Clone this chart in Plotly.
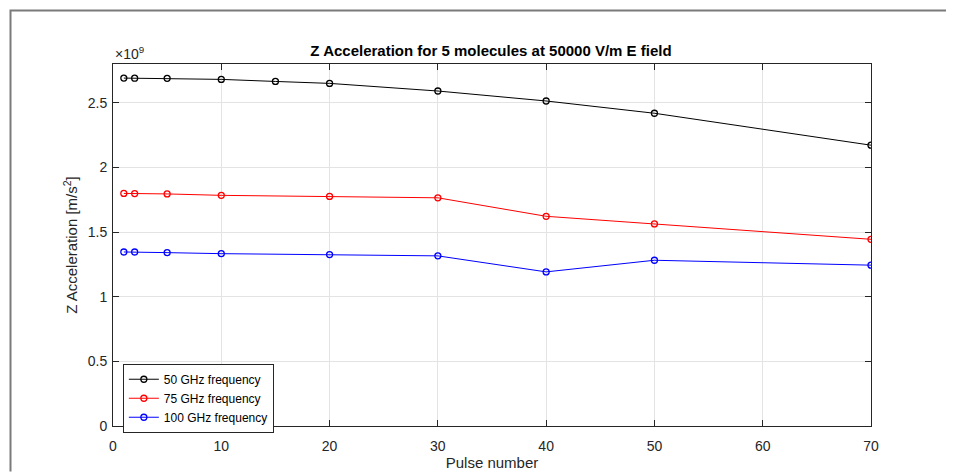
import plotly.graph_objects as go

pulses_50 = [1, 2, 5, 10, 15, 20, 30, 40, 50, 70]
acc_50 = [2.691e9, 2.690e9, 2.689e9, 2.681e9, 2.665e9, 2.650e9, 2.591e9, 2.514e9, 2.419e9, 2.172e9]
pulses_75 = [1, 2, 5, 10, 20, 30, 40, 50, 70]
acc_75 = [1.799e9, 1.798e9, 1.795e9, 1.784e9, 1.776e9, 1.765e9, 1.622e9, 1.563e9, 1.444e9]
pulses_100 = [1, 2, 5, 10, 20, 30, 40, 50, 70]
acc_100 = [1.346e9, 1.346e9, 1.341e9, 1.333e9, 1.326e9, 1.316e9, 1.192e9, 1.282e9, 1.244e9]

series_names = ["50 GHz frequency", "75 GHz frequency", "100 GHz frequency"]
series_colors = ["#000000", "#ff0000", "#0000ff"]

x_ticks = [0, 10, 20, 30, 40, 50, 60, 70]
y_tickvals = [0, 0.5e9, 1e9, 1.5e9, 2e9, 2.5e9]
y_ticktext = ["0", "0.5", "1", "1.5", "2", "2.5"]

FONT = "Liberation Sans, Arial, Helvetica, sans-serif"

fig = go.Figure()
for xs, ys, name, col in zip([pulses_50, pulses_75, pulses_100],
                             [acc_50, acc_75, acc_100],
                             series_names, series_colors):
    fig.add_trace(go.Scatter(
        x=xs, y=ys, name=name, mode="lines+markers",
        line=dict(color=col, width=1),
        marker=dict(symbol="circle-open", size=6, color=col, line=dict(width=1.3, color=col)),
    ))

axis_common = dict(
    showline=True, linecolor="#262626", linewidth=1, mirror="ticks",
    ticks="inside", ticklen=6, tickcolor="#262626",
    showgrid=True, gridcolor="#e3e3e3", gridwidth=1, zeroline=False,
    tickfont=dict(family=FONT, size=14, color="#262626"),
    automargin=False,
)

fig.update_xaxes(range=[0, 70], tickvals=x_ticks, ticklabelstandoff=7,
                 title=dict(text="Pulse number", font=dict(family=FONT, size=15, color="#262626"), standoff=2),
                 **axis_common)
fig.update_yaxes(range=[0, 2.8e9], tickvals=y_tickvals, ticktext=y_ticktext, ticklabelstandoff=2,
                 title=dict(text="Z Acceleration [m/s<sup>2</sup>]", font=dict(family=FONT, size=15, color="#262626"), standoff=6),
                 **axis_common)

fig.update_layout(
    width=958, height=473,
    margin=dict(l=113, r=87, t=64, b=47),
    paper_bgcolor="white", plot_bgcolor="white",
    font=dict(family=FONT, color="#262626"),
    title=dict(text="<b>Z Acceleration for 5 molecules at 50000 V/m E field</b>",
               x=491 / 958, xanchor="center", y=1 - 51 / 473, yanchor="middle",
               font=dict(family=FONT, size=15, color="#000000")),
    legend=dict(x=0.013, y=0.172, xanchor="left", yanchor="top",
                bgcolor="white", bordercolor="#262626", borderwidth=1,
                font=dict(family=FONT, size=12, color="#000000"),
                itemwidth=30, tracegroupgap=0),
    showlegend=True,
)

fig.add_annotation(text="×10<sup>9</sup>", xref="paper", yref="paper",
                   x=0.0, y=1.0, xanchor="left", yanchor="bottom", showarrow=False,
                   font=dict(family=FONT, size=14, color="#262626"), yshift=0)

# outer figure frame: top and left edges as one open path
fx0 = (10.5 - 113) / 758
fy_top = (426.5 - 10.5) / 362.5
fx1 = (946 - 113) / 758
fy_bot = (426.5 - 472) / 362.5
fig.add_shape(type="path", xref="paper", yref="paper",
              path=f"M {fx0},{fy_bot} L {fx0},{fy_top} L {fx1},{fy_top}",
              line=dict(color="#7a7a7a", width=2), fillcolor="rgba(0,0,0,0)", layer="below")

fig.write_html("out.html")
